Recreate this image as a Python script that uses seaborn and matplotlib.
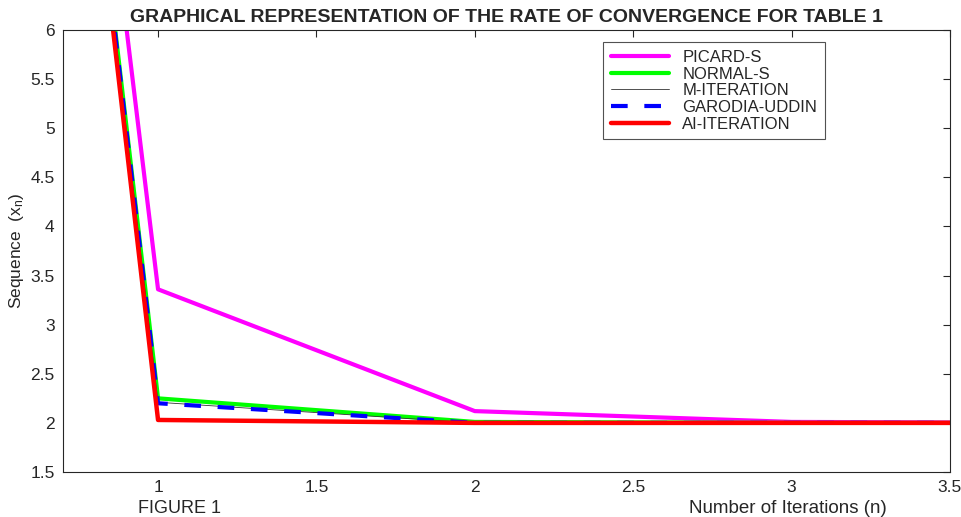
import matplotlib
matplotlib.use('Agg')
import matplotlib.pyplot as plt
import numpy as np
import pandas as pd
import seaborn as sns

ITERATIONS = [0, 1, 2, 3, 4]
PICARD_S = [30.0, 3.36, 2.12, 2.01, 2.0]
NORMAL_S = [30.0, 2.25, 2.01, 2.0, 2.0]
M_ITERATION = [30.0, 2.21, 2.0, 2.0, 2.0]
GARODIA_UDDIN = [30.0, 2.20, 2.0, 2.0, 2.0]
AI_ITERATION = [30.0, 2.03, 2.0, 2.0, 2.0]

SERIES = [
    ('PICARD-S', PICARD_S, '#ff00ff', 3.0, '-'),
    ('NORMAL-S', NORMAL_S, '#00ff00', 3.0, '-'),
    ('M-ITERATION', M_ITERATION, '#333333', 0.6, '-'),
    ('GARODIA-UDDIN', GARODIA_UDDIN, '#0000ff', 3.0, (0, (4, 4))),
    ('AI-ITERATION', AI_ITERATION, '#ff0000', 3.2, '-'),
]

sns.set_style('white')
plt.rcParams['font.family'] = ['Liberation Sans', 'DejaVu Sans']
plt.rcParams['mathtext.fontset'] = 'custom'
plt.rcParams['mathtext.rm'] = 'Liberation Sans'
plt.rcParams['mathtext.it'] = 'Liberation Sans'

fig = plt.figure(figsize=(9.62, 5.17), dpi=100)
ax = fig.add_axes([0.0655, 0.087, 0.922, 0.855])

for name, values, color, lw, ls in SERIES:
    df = pd.DataFrame({'n': ITERATIONS, 'x': values})
    sns.lineplot(data=df, x='n', y='x', color=color, linewidth=lw, linestyle=ls, label=name, ax=ax)

ax.set_xlim(0.7, 3.5)
ax.set_ylim(1.5, 6)
ax.set_xticks([1, 1.5, 2, 2.5, 3, 3.5])
ax.set_xticklabels(['1', '1.5', '2', '2.5', '3', '3.5'])
ax.set_yticks(np.arange(1.5, 6.01, 0.5))
ax.set_yticklabels(['1.5', '2', '2.5', '3', '3.5', '4', '4.5', '5', '5.5', '6'])
ax.tick_params(direction='in', length=5, width=0.8, labelsize=12.5, colors='#262626',
               top=True, right=True, pad=6)
for spine in ax.spines.values():
    spine.set_color('#262626')
    spine.set_linewidth(0.8)

ax.set_xlabel('')
ax.set_ylabel('Sequence  (x$_n$)', fontsize=12.5, color='#262626', labelpad=3)
ax.set_title('GRAPHICAL REPRESENTATION OF THE RATE OF CONVERGENCE FOR TABLE 1',
             fontsize=14, fontweight='bold', pad=6)

fig.text(0.187, 0.016, 'FIGURE 1', fontsize=13, color='#262626', ha='center', va='center')
fig.text(0.819, 0.016, 'Number of Iterations (n)', fontsize=13.5, color='#262626', ha='center', va='center')

leg = ax.legend(loc='upper left', bbox_to_anchor=(0.609, 0.972), fontsize=12,
                frameon=True, fancybox=False, handlelength=3.5, handletextpad=0.8,
                borderpad=0.45, labelspacing=0.1, borderaxespad=0)
leg.get_frame().set_edgecolor('#262626')
leg.get_frame().set_linewidth(0.8)

fig.savefig('out.png', dpi=100)
